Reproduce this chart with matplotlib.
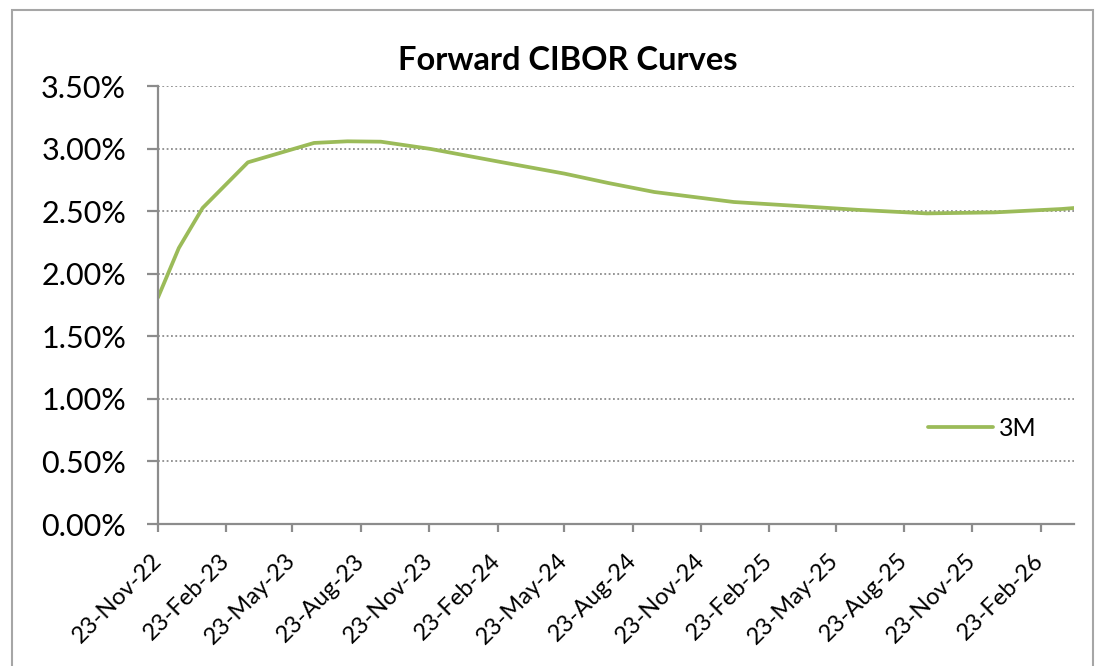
import matplotlib
matplotlib.use("Agg")
import matplotlib.pyplot as plt
from matplotlib.patches import Rectangle
import pandas as pd

# forward 3M CIBOR curve
dates = ['2022-11-23', '2022-12-21', '2023-01-22', '2023-03-24', '2023-06-21',
         '2023-08-05', '2023-09-19', '2023-11-25', '2024-02-27', '2024-05-23',
         '2024-07-21', '2024-09-21', '2025-01-06', '2025-03-23', '2025-06-23',
         '2025-09-23', '2025-12-23', '2026-03-23', '2026-04-09']
rate_3m = [1.81, 2.205, 2.525, 2.89, 3.045,
           3.058, 3.055, 2.997, 2.893, 2.80,
           2.725, 2.653, 2.573, 2.545, 2.51,
           2.482, 2.49, 2.517, 2.525]

tick_dates = ['2022-11-23', '2023-02-23', '2023-05-23', '2023-08-23', '2023-11-23',
              '2024-02-23', '2024-05-23', '2024-08-23', '2024-11-23', '2025-02-23',
              '2025-05-23', '2025-08-23', '2025-11-23', '2026-02-23']
y_ticks = [0.0, 0.5, 1.0, 1.5, 2.0, 2.5, 3.0, 3.5]

plt.rcParams['font.family'] = ['Lato', 'DejaVu Sans']

W, H = 1107, 666
fig = plt.figure(figsize=(W / 100, H / 100), dpi=100)
ax = fig.add_axes([158 / W, 1 - 524 / H, (1074 - 158) / W, (524 - 86) / H])

# chart area border
fig.patches.append(Rectangle((12 / W, -0.05), (1093 - 12) / W, 1.05 - 10 / H,
                             transform=fig.transFigure, fill=False,
                             edgecolor='#a6a6a6', linewidth=1.5))

x = pd.to_datetime(dates)
y = [v / 100 for v in rate_3m]
ax.plot(x, y, color='#9bbb59', linewidth=2.7, label='3M', solid_capstyle='round')

ax.set_ylim(0, 0.035)
ax.set_yticks([v / 100 for v in y_ticks])
ax.set_yticklabels(['%.2f%%' % v for v in y_ticks])
ax.set_xlim(pd.Timestamp('2022-11-23'), pd.Timestamp('2026-04-09'))
tk = pd.to_datetime(tick_dates)
ax.set_xticks(tk)
ax.set_xticklabels([d.strftime('%d-%b-%y') for d in tk])

for s in ['top', 'right']:
    ax.spines[s].set_visible(False)
for s in ['left', 'bottom']:
    ax.spines[s].set_color('#8c8c8c')
    ax.spines[s].set_linewidth(1.6)

ax.yaxis.grid(True, color='#8c8c8c', linestyle=(0, (1, 1.4)), linewidth=1.3)
ax.set_axisbelow(True)

ax.tick_params(axis='y', direction='out', length=8, width=1.6, color='#8c8c8c',
               labelsize=22, pad=15)
ax.tick_params(axis='x', direction='out', length=6, width=1.6, color='#8c8c8c',
               labelsize=17, pad=18)
for lab in ax.get_xticklabels():
    lab.set_rotation(45)
    lab.set_ha('right')
    lab.set_va('center')
    lab.set_rotation_mode('anchor')

fig.text(568 / W, 1 - 61 / H, 'Forward CIBOR Curves', fontsize=23.5,
         fontweight='bold', ha='center', va='center')

ax.legend(loc='center left', bbox_to_anchor=(928 / W, 1 - 428 / H),
          bbox_transform=fig.transFigure, frameon=False, fontsize=18,
          borderpad=0, borderaxespad=0, handlelength=2.6, handletextpad=0.25)

plt.savefig('out.png', dpi=100)
